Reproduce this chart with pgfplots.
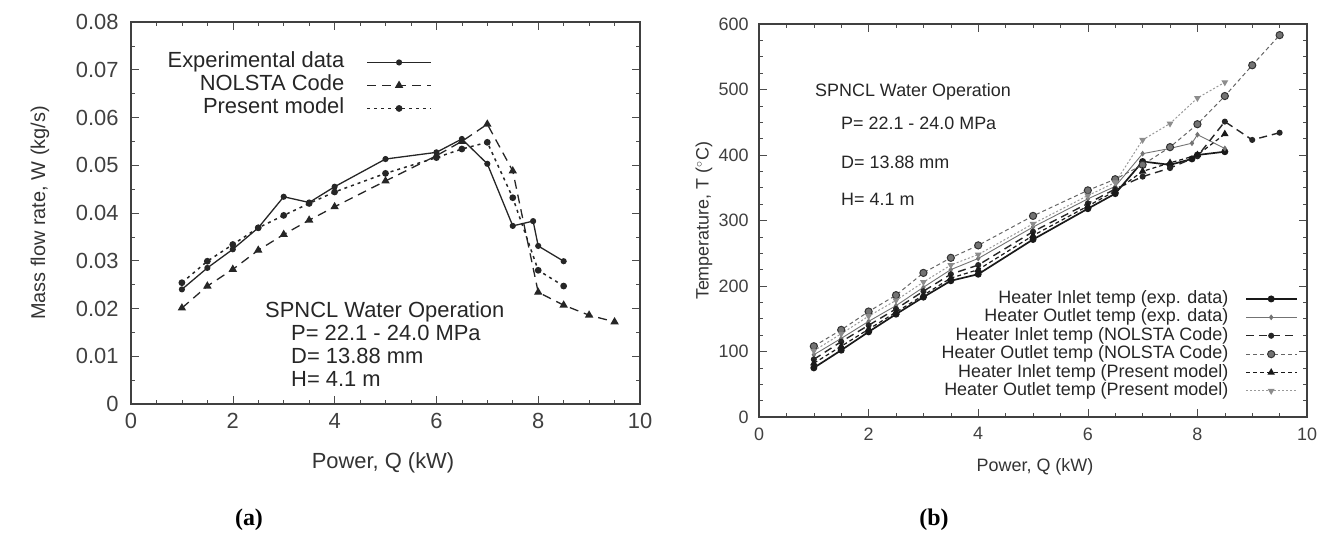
\documentclass[border=0pt]{standalone}
\usepackage{pgfplots}
\pgfplotsset{compat=1.18}
\usepackage{fontspec}
\setmainfont{Liberation Sans}
\newfontfamily\serifb{Liberation Serif}
\begin{document}
\begin{tikzpicture}[x=1bp,y=1bp]
\path[use as bounding box] (0,0) rectangle (1325,536);
% ---------------- (a) ----------------
\begin{axis}[
  at={(131bp,132bp)}, anchor=south west,
  width=509bp, height=382bp, scale only axis,
  xmin=0, xmax=10, ymin=0, ymax=0.08,
  scaled y ticks=false,
  /pgf/number format/assume math mode=true,
  xtick={0,2,4,6,8,10},
  xticklabels={0,2,4,6,8,10},
  ytick={0,0.01,0.02,0.03,0.04,0.05,0.06,0.07,0.08},
  yticklabels={0,0.01,0.02,0.03,0.04,0.05,0.06,0.07,0.08},
  minor x tick num=3, minor y tick num=1,
  tick align=inside, major tick length=8bp, minor tick length=4bp,
  tick style={black!70, line width=0.6bp},
  axis line style={black!75, line width=1.2bp},
  ticklabel style={font=\fontsize{22}{24}\selectfont, text=black!75},
  xticklabel style={yshift=-6bp},
  yticklabel style={xshift=-9bp},
  legend style={at={(0.591,0.919)}, anchor=north east, draw=none, fill=none,
    inner sep=0pt, outer sep=0pt, row sep=4bp, column sep=22bp,
    font=\fontsize{22}{24}\selectfont, text=black!85,
    nodes={inner sep=0pt, text height=15bp, text depth=4bp}},
  legend cell align=right,
  legend plot pos=right,
  legend image code/.code={\draw[mark repeat=2,mark phase=2,#1] plot coordinates {(0bp,0bp)(32bp,0bp)(64bp,0bp)};},
]
\addplot[black!85, line width=1.3bp, mark=*, mark size=2.4bp, mark options={solid}] coordinates {
(1,0.0240) (1.5,0.0285) (2,0.0324) (2.5,0.0369) (3,0.0434) (3.5,0.0422) (4,0.0455)
(5,0.0513) (6,0.0527) (6.5,0.0555) (7,0.0503) (7.5,0.0373) (7.9,0.0383) (8,0.0331) (8.5,0.0299)};
\addlegendentry{Experimental data}
\addplot[black!85, line width=1.3bp, dash pattern=on 9bp off 6bp, mark=triangle*, mark size=3.6bp, mark options={solid}] coordinates {
(1,0.0201) (1.5,0.0247) (2,0.0282) (2.5,0.0322) (3,0.0355) (3.5,0.0385) (4,0.0413)
(5,0.0467) (6,0.0520) (6.5,0.0550) (7,0.0586) (7.5,0.0488) (8,0.0234) (8.5,0.0207) (9,0.0186) (9.5,0.0172)};
\addlegendentry{NOLSTA Code}
\addplot[black!85, line width=1.5bp, dash pattern=on 3bp off 4bp, mark=*, mark size=2.6bp, mark options={solid}] coordinates {
(1,0.0254) (1.5,0.0299) (2,0.0334) (2.5,0.0369) (3,0.0395) (3.5,0.0420) (4,0.0444)
(5,0.0483) (6,0.0516) (6.5,0.0534) (7,0.0548) (7.5,0.0432) (8,0.0280) (8.5,0.0247)};
\addlegendentry{Present model}
\end{axis}
% ---------------- (b) ----------------
\begin{axis}[
  at={(759bp,119bp)}, anchor=south west,
  width=548bp, height=393bp, scale only axis,
  xmin=0, xmax=10, ymin=0, ymax=600,
  /pgf/number format/assume math mode=true,
  xtick={0,2,4,6,8,10},
  xticklabels={0,2,4,6,8,10},
  ytick={0,100,200,300,400,500,600},
  yticklabels={0,100,200,300,400,500,600},
  minor x tick num=3, minor y tick num=3,
  tick align=inside, major tick length=8bp, minor tick length=4bp,
  tick style={black!70, line width=0.6bp},
  axis line style={black!75, line width=1.2bp},
  ticklabel style={font=\fontsize{18}{20}\selectfont, text=black!75},
  xticklabel style={yshift=-7bp},
  yticklabel style={xshift=-7bp},
  legend style={at={(0.9836,0.322)}, anchor=north east, draw=none, fill=none,
    inner sep=0pt, outer sep=0pt, row sep=1.4bp, column sep=17bp,
    font=\fontsize{18}{20}\selectfont, text=black!85,
    nodes={inner sep=0pt, text height=13bp, text depth=4bp}},
  legend cell align=right,
  legend plot pos=right,
  legend image code/.code={\draw[mark repeat=2,mark phase=2,#1] plot coordinates {(0bp,0bp)(25bp,0bp)(51bp,0bp)};},
]
\addplot[black!90, line width=1.7bp, mark=*, mark size=2.6bp, mark options={solid}] coordinates {
(1,75) (1.5,102) (2,130) (2.5,157) (3,183) (3.5,208) (4,218) (5,271) (6,318) (6.5,341)
(7,390) (7.5,385) (7.9,394) (8,400) (8.5,405)};
\addlegendentry{Heater Inlet temp (exp. data)}
\addplot[black!55, line width=0.9bp, mark=diamond*, mark size=2.2bp, mark options={solid}] coordinates {
(1,95) (1.5,120) (2,146) (2.5,170) (3,198) (3.5,225) (4,242) (5,290) (6,333) (6.5,352)
(7,402) (7.5,410) (7.9,418) (8,431) (8.5,410)};
\addlegendentry{Heater Outlet temp (exp. data)}
\addplot[black!85, line width=1.4bp, dash pattern=on 8bp off 5bp, mark=*, mark size=2.3bp, mark options={solid}] coordinates {
(1,88) (1.5,115) (2,140) (2.5,165) (3,192) (3.5,218) (4,232) (5,283) (6,326) (6.5,348)
(7,367) (7.5,380) (8,398) (8.5,451) (9,423) (9.5,434)};
\addlegendentry{Heater Inlet temp (NOLSTA Code)}
\addplot[black!60, line width=1.0bp, dash pattern=on 4bp off 3bp, mark=*, mark size=3.6bp, mark options={solid, fill=black!55, draw=black!80}] coordinates {
(1,108) (1.5,133) (2,161) (2.5,186) (3,220) (3.5,243) (4,262) (5,307) (6,346) (6.5,363)
(7,385) (7.5,412) (8,447) (8.5,490) (9,537) (9.5,583)};
\addlegendentry{Heater Outlet temp (NOLSTA Code)}
\addplot[black!90, line width=1.2bp, dash pattern=on 4bp off 3bp, mark=triangle*, mark size=3.2bp, mark options={solid}] coordinates {
(1,82) (1.5,108) (2,134) (2.5,160) (3,186) (3.5,212) (4,225) (5,277) (6,322) (6.5,345)
(7,375) (7.5,388) (8,400) (8.5,432)};
\addlegendentry{Heater Inlet temp (Present model)}
\addplot[black!40, line width=1.0bp, dash pattern=on 2bp off 2bp, mark=triangle*, mark size=3.0bp, mark options={solid, rotate=180, fill=black!45, draw=black!45}] coordinates {
(1,101) (1.5,127) (2,154) (2.5,178) (3,206) (3.5,232) (4,248) (5,295) (6,338) (6.5,358)
(7,423) (7.5,448) (8,487) (8.5,511)};
\addlegendentry{Heater Outlet temp (Present model)}
\end{axis}
% ---------------- labels ----------------
\node[rotate=90, font=\fontsize{20}{22}\selectfont, text=black!80] at (40,323) {Mass flow rate, W (kg/s)};
\node[font=\fontsize{22}{24}\selectfont, text=black!80] at (383,73) {Power, Q (kW)};
\node[rotate=90, font=\fontsize{18}{20}\selectfont, text=black!80] at (704,315) {Temperature, T ($^\circ$C)};
\node[font=\fontsize{18}{20}\selectfont, text=black!80] at (1035,69) {Power, Q (kW)};
% annotations (a)
\begin{scope}[every node/.style={anchor=base west, inner sep=0pt, font=\fontsize{22}{24}\selectfont, text=black!85}]
\node at (265,218) {SPNCL Water Operation};
\node at (291,195) {P= 22.1 - 24.0 MPa};
\node at (291,172) {D= 13.88 mm};
\node at (291,149) {H= 4.1 m};
\end{scope}
% annotations (b)
\begin{scope}[every node/.style={anchor=base west, inner sep=0pt, font=\fontsize{18}{20}\selectfont, text=black!85}]
\node at (815,439) {SPNCL Water Operation};
\node at (841,406) {P= 22.1 - 24.0 MPa};
\node at (841,367) {D= 13.88 mm};
\node at (841,330) {H= 4.1 m};
\end{scope}
\node[font=\serifb\bfseries\fontsize{24}{26}\selectfont] at (249,16) {(a)};
\node[font=\serifb\bfseries\fontsize{24}{26}\selectfont] at (934,16) {(b)};
\end{tikzpicture}
\end{document}
